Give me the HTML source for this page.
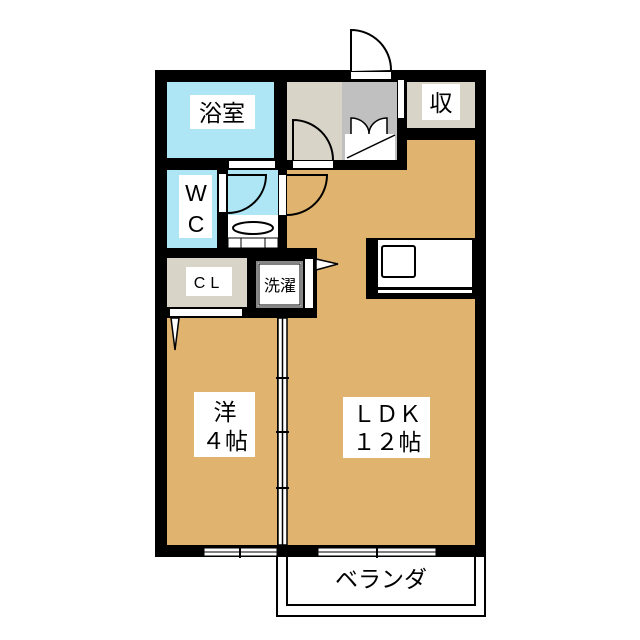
<!DOCTYPE html>
<html><head><meta charset="utf-8"><style>
html,body{margin:0;padding:0;background:#fff;}
svg{display:block;}
text{font-family:"Liberation Sans","Noto Sans CJK JP",sans-serif;fill:#000;}
</style></head><body>
<svg width="640" height="640" viewBox="0 0 640 640" xmlns="http://www.w3.org/2000/svg">
<rect width="640" height="640" fill="#fff"/>
<!-- veranda -->
<rect x="277" y="552" width="208" height="64" fill="#fff" stroke="#000" stroke-width="2"/>
<rect x="287" y="552" width="188" height="53" fill="#fff" stroke="#000" stroke-width="2"/>
<!-- outer black body -->
<rect x="155" y="70" width="331" height="487" fill="#000"/>
<!-- LDK -->
<polygon points="287,170 407,170 407,140 475,140 475,545 287,545" fill="#e0b46e"/>
<!-- washer wall block -->
<rect x="250" y="248" width="67" height="70" fill="#000"/>
<!-- western room -->
<rect x="167" y="318" width="110" height="227" fill="#e0b46e"/>
<!-- bath -->
<rect x="167" y="82" width="107" height="76" fill="#aee6f5"/>
<!-- genkan -->
<rect x="287" y="82" width="55" height="78" fill="#d8d4c8"/>
<rect x="342" y="82" width="55" height="78" fill="#c0c0c0"/>
<!-- shu -->
<rect x="407" y="82" width="68" height="46" fill="#d8d4c8"/>
<!-- WC -->
<rect x="167" y="170" width="50" height="78" fill="#aee6f5"/>
<rect x="228" y="170" width="50" height="45" fill="#aee6f5"/>
<rect x="228" y="215" width="50" height="33" fill="#fff"/>
<ellipse cx="253" cy="228" rx="20" ry="6" fill="#fff" stroke="#000" stroke-width="2"/>
<rect x="228" y="238" width="50" height="10" fill="#fff" stroke="#000" stroke-width="1"/>
<line x1="241" y1="238" x2="241" y2="248" stroke="#000"/>
<line x1="265" y1="238" x2="265" y2="248" stroke="#000"/>
<!-- CL -->
<rect x="167" y="258" width="80" height="49" fill="#d8d4c8"/>
<rect x="170" y="309" width="72" height="7" fill="#fff"/>
<polygon points="171,318 179,318 175,350" fill="#fff" stroke="#000" stroke-width="1.5"/>
<!-- washer -->
<rect x="257" y="262" width="45" height="45" fill="#fff" stroke="#888" stroke-width="2"/>
<rect x="259" y="264" width="41" height="41" fill="#fff" stroke="#000" stroke-width="1"/>
<rect x="305" y="259" width="8" height="49" fill="#fff"/>
<polygon points="316,259 316,270 338,264" fill="#fff" stroke="#000" stroke-width="1.5"/>
<!-- kitchen -->
<rect x="366" y="238" width="109" height="61" fill="#000"/>
<rect x="378" y="240" width="94" height="47" fill="#fff"/>
<rect x="378" y="290" width="94" height="3" fill="#fff"/>
<rect x="382" y="246" width="33" height="31" rx="2" fill="#fff" stroke="#000" stroke-width="2"/>
<!-- partition between western and LDK -->
<rect x="278" y="318" width="9" height="227" fill="#fff" stroke="#000" stroke-width="1.5"/>
<line x1="282.5" y1="318" x2="282.5" y2="545" stroke="#000" stroke-width="1.5"/>
<line x1="276" y1="378" x2="289" y2="378" stroke="#000" stroke-width="2"/>
<line x1="276" y1="432" x2="289" y2="432" stroke="#000" stroke-width="2"/>
<line x1="276" y1="488" x2="289" y2="488" stroke="#000" stroke-width="2"/>
<!-- bottom windows -->
<rect x="204" y="548" width="73" height="8" fill="#fff" stroke="#000" stroke-width="1"/>
<line x1="204" y1="552" x2="277" y2="552" stroke="#000"/>
<line x1="240" y1="546" x2="240" y2="558" stroke="#000" stroke-width="2"/>
<rect x="318" y="548" width="118" height="8" fill="#fff" stroke="#000" stroke-width="1"/>
<line x1="318" y1="552" x2="436" y2="552" stroke="#000"/>
<line x1="377" y1="546" x2="377" y2="558" stroke="#000" stroke-width="2"/>
<!-- entry door -->
<rect x="351" y="72" width="40" height="7" fill="#fff"/>
<path d="M351,71 L351,30 A40,40 0 0 1 391,70" fill="#fff" stroke="#000" stroke-width="2"/>
<rect x="398" y="80" width="6" height="38" fill="#fff"/>
<!-- shoe box -->
<rect x="345" y="134" width="50" height="26" fill="#fff"/>
<line x1="347" y1="158" x2="395" y2="135" stroke="#000" stroke-width="1.5"/>
<path d="M351,134 L351,118 A18,16 0 0 1 369,134 A18,16 0 0 1 387,118 L387,134" fill="#fff" stroke="#000" stroke-width="1.5"/>
<!-- genkan inner door -->
<rect x="293" y="161" width="40" height="7" fill="#fff"/>
<path d="M293,160 L293,120 A40,40 0 0 1 333,160" fill="none" stroke="#000" stroke-width="2"/>
<!-- door bath -->
<rect x="229" y="161" width="46" height="7" fill="#fff"/>
<!-- WC door -->
<rect x="219" y="174" width="7" height="38" fill="#fff"/>
<path d="M228,175 L266,175 A38,38 0 0 1 228,213" fill="none" stroke="#000" stroke-width="2"/>
<!-- LDK door -->
<rect x="279" y="175" width="7" height="40" fill="#fff"/>
<path d="M287,175 L327,175 A40,40 0 0 1 287,215" fill="none" stroke="#000" stroke-width="2"/>
<!-- labels -->
<rect x="190" y="95" width="65" height="34" fill="#fff"/>
<text x="222" y="121" font-size="23" text-anchor="middle">浴室</text>
<rect x="422" y="84" width="38" height="36" fill="#fff"/>
<text x="441" y="111" font-size="23" text-anchor="middle">収</text>
<rect x="179" y="175" width="33" height="63" fill="#fff"/>
<text x="196" y="201" font-size="23" text-anchor="middle">W</text>
<text x="196" y="232" font-size="23" text-anchor="middle">C</text>
<rect x="186" y="267" width="46" height="29" fill="#fff"/>
<text x="209" y="288" font-size="16" text-anchor="middle" letter-spacing="5">CL</text>
<text x="280" y="291" font-size="16" text-anchor="middle">洗濯</text>
<rect x="194" y="392" width="61" height="65" fill="#fff"/>
<text x="225" y="420" font-size="23" text-anchor="middle">洋</text>
<text x="225" y="449" font-size="23" text-anchor="middle">４帖</text>
<rect x="343" y="397" width="87" height="61" fill="#fff"/>
<text x="387" y="422" font-size="23" text-anchor="middle">ＬＤＫ</text>
<text x="387" y="450" font-size="23" text-anchor="middle">１２帖</text>
<text x="381" y="587" font-size="23" text-anchor="middle">ベランダ</text>
</svg>
</body></html>
